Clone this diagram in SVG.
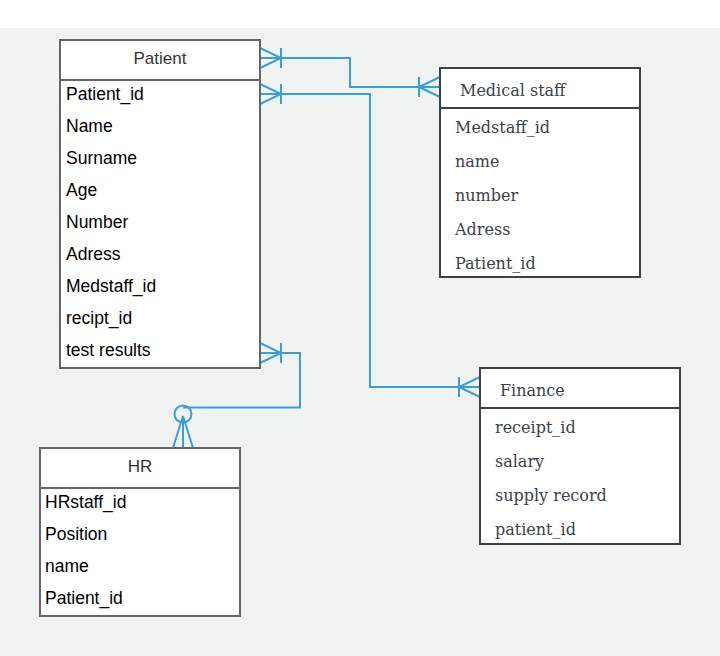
<svg xmlns="http://www.w3.org/2000/svg" width="720" height="656" viewBox="0 0 720 656">
<style>
.bg{fill:#f1f2f2}
.boxA{fill:#fff;stroke:#666;stroke-width:2}
.boxB{fill:#fff;stroke:#3a414a;stroke-width:2}
.divA{stroke:#666;stroke-width:2}
.divB{stroke:#3a414a;stroke-width:2}
.hA{font-family:"Liberation Sans",Arial,sans-serif;font-size:17px;fill:#333;text-anchor:middle}
.rA{font-family:"Liberation Sans",Arial,sans-serif;font-size:17.5px;fill:#000}
.hB{font-family:"DejaVu Serif","Liberation Serif",serif;font-size:16px;fill:#3a414a}
.rB{font-family:"DejaVu Serif","Liberation Serif",serif;font-size:16px;fill:#3a414a}
.ln{fill:none;stroke:#3a9fd6;stroke-width:2}
</style>
<rect x="0" y="0" width="720" height="656" fill="#fff"/>
<rect class="bg" x="0" y="28" width="720" height="628"/>
<g id="connectors">
<path class="ln" d="M260,58 H350 V87 H440"/>
<path class="ln" d="M260,48 L281,58 L260,68 M281,48 V68"/>
<path class="ln" d="M440,77 L419,87 L440,97 M419,77 V97"/>
<path class="ln" d="M260,94 H370 V387 H480"/>
<path class="ln" d="M260,84 L281,94 L260,104 M281,84 V104"/>
<path class="ln" d="M480,377 L459,387 L480,397 M459,377 V397"/>
<path class="ln" d="M260,353 H300 V407.5 H183"/>
<path class="ln" d="M260,343 L281,353 L260,363 M281,343 V363"/>
<path class="ln" d="M183,416 L173,448 M183,416 V448 M183,416 L193,448"/>
<circle class="ln" cx="183" cy="414" r="8.5" fill="#fff"/>
</g>
<g id="patient">
<rect class="boxA" x="60" y="40" width="200" height="328"/>
<line class="divA" x1="60" y1="80" x2="260" y2="80"/>
<text class="hA" x="160" y="64">Patient</text>
<text class="rA" x="66" y="100">Patient_id</text>
<text class="rA" x="66" y="132">Name</text>
<text class="rA" x="66" y="164">Surname</text>
<text class="rA" x="66" y="196">Age</text>
<text class="rA" x="66" y="228">Number</text>
<text class="rA" x="66" y="260">Adress</text>
<text class="rA" x="66" y="292">Medstaff_id</text>
<text class="rA" x="66" y="324">recipt_id</text>
<text class="rA" x="66" y="356">test results</text>
</g>
<g id="medical-staff">
<rect class="boxB" x="440" y="68" width="200" height="209"/>
<line class="divB" x1="440" y1="108" x2="640" y2="108"/>
<text class="hB" x="460" y="96">Medical staff</text>
<text class="rB" x="455" y="133">Medstaff_id</text>
<text class="rB" x="455" y="167">name</text>
<text class="rB" x="455" y="201">number</text>
<text class="rB" x="455" y="235">Adress</text>
<text class="rB" x="455" y="269">Patient_id</text>
</g>
<g id="finance">
<rect class="boxB" x="480" y="368" width="200" height="176"/>
<line class="divB" x1="480" y1="408" x2="680" y2="408"/>
<text class="hB" x="500" y="396">Finance</text>
<text class="rB" x="495" y="433">receipt_id</text>
<text class="rB" x="495" y="467">salary</text>
<text class="rB" x="495" y="501">supply record</text>
<text class="rB" x="495" y="535">patient_id</text>
</g>
<g id="hr">
<rect class="boxA" x="40" y="448" width="200" height="168"/>
<line class="divA" x1="40" y1="488" x2="240" y2="488"/>
<text class="hA" x="140" y="472">HR</text>
<text class="rA" x="45" y="508">HRstaff_id</text>
<text class="rA" x="45" y="540">Position</text>
<text class="rA" x="45" y="572">name</text>
<text class="rA" x="45" y="604">Patient_id</text>
</g>
</svg>
